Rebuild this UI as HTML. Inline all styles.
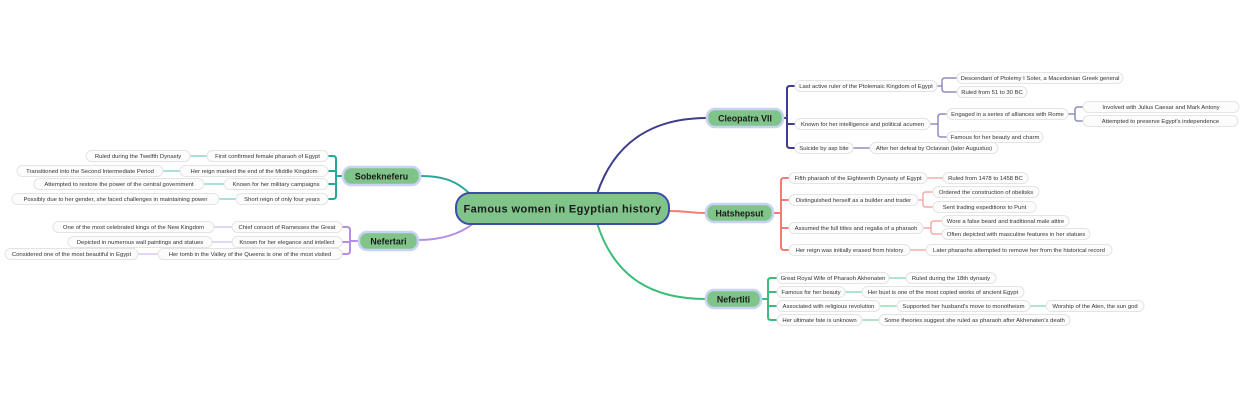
<!DOCTYPE html>
<html><head><meta charset="utf-8"><style>
html,body{margin:0;padding:0;background:#fff;width:1240px;height:400px;overflow:hidden}
svg{display:block}
.p{fill:#fcfcfc;stroke:#e4e4e4;stroke-width:1}
.t{font-family:"Liberation Sans",sans-serif;font-size:5.9px;fill:#333;text-anchor:middle}
.n{fill:#80c48a;stroke:#c8d2f2;stroke-width:2.5}
.nt{font-family:"Liberation Sans",sans-serif;font-size:8.8px;font-weight:bold;fill:#1a1a1a;text-anchor:middle}
path{fill:none;stroke-linecap:round;stroke-linejoin:round}
</style></head><body>
<svg width="1240" height="400" viewBox="0 0 1240 400" xmlns="http://www.w3.org/2000/svg">
<path d="M597 194 C615 140 655 118 707 118" stroke="#3d3d8c" stroke-width="2"/>
<path d="M669 211 C688 211 690 213 706 213" stroke="#f47a72" stroke-width="2"/>
<path d="M597 223 C615 280 655 299 706 299" stroke="#3dbb7a" stroke-width="2"/>
<path d="M420 176 C445 176 458 182 470 194" stroke="#27a89a" stroke-width="2"/>
<path d="M418 240 C442 240 460 234 474 223" stroke="#b68ee0" stroke-width="2"/>

<g stroke="#3d3d8c" stroke-width="2">
<path d="M783 118 H787"/>
<path d="M795 86 H790 Q787 86 787 89 V145 Q787 148 790 148 H795"/>
<path d="M787 124 H795"/>
</g>
<g stroke="#8d8dc0" stroke-width="1.5">
<path d="M937 86 H942"/>
<path d="M957 78 H945 Q942 78 942 81 V89 Q942 92 945 92 H957"/>
<path d="M930 124 H938"/>
<path d="M947 114 H941 Q938 114 938 117 V134 Q938 137 941 137 H947"/>
<path d="M1068 114 H1075"/>
<path d="M1083 107 H1078 Q1075 107 1075 110 V118 Q1075 121 1078 121 H1083"/>
<path d="M853 148 H870"/>
</g>
<g stroke="#f47a72" stroke-width="2">
<path d="M773 213 H781"/>
<path d="M789 178 H784 Q781 178 781 181 V247 Q781 250 784 250 H789"/>
<path d="M781 200 H789 M781 228 H789"/>
</g>
<g stroke="#f7aaa5" stroke-width="1.5">
<path d="M927 178 H943"/>
<path d="M918 200 H923"/>
<path d="M933 192 H926 Q923 192 923 195 V204 Q923 207 926 207 H933"/>
<path d="M923 228 H931"/>
<path d="M942 221 H934 Q931 221 931 224 V231 Q931 234 934 234 H942"/>
<path d="M910 250 H926"/>
</g>
<g stroke="#3dbb7a" stroke-width="2">
<path d="M761 299 H768"/>
<path d="M777 278 H771 Q768 278 768 281 V317 Q768 320 771 320 H777"/>
<path d="M768 292 H777 M768 306 H777"/>
</g>
<g stroke="#95dcb8" stroke-width="1.5">
<path d="M889 278 H906"/>
<path d="M845 292 H862"/>
<path d="M880 306 H897"/>
<path d="M1030 306 H1046"/>
<path d="M862 320 H879"/>
</g>
<g stroke="#27a89a" stroke-width="2">
<path d="M343 176 H336"/>
<path d="M328 156 H333 Q336 156 336 159 V196 Q336 199 333 199 H328"/>
<path d="M336 171 H328 M336 184 H328"/>
</g>
<g stroke="#8dd6d0" stroke-width="1.5">
<path d="M207 156 H190"/>
<path d="M180 171 H163"/>
<path d="M224 184 H204"/>
<path d="M236 199 H219"/>
</g>
<g stroke="#b68ee0" stroke-width="2">
<path d="M359 241 H350"/>
<path d="M342 227 H347 Q350 227 350 230 V251 Q350 254 347 254 H342"/>
<path d="M350 242 H342"/>
</g>
<g stroke="#dcc8f2" stroke-width="1.5">
<path d="M232 227 H214"/>
<path d="M232 242 H212"/>
<path d="M158 254 H138"/>
</g>

<rect x="456" y="193" width="213" height="31" rx="14" fill="#80c48a" stroke="#3b4fa8" stroke-width="2"/>
<text x="562.5" y="212.5" style="font-family:'Liberation Sans',sans-serif;font-size:11px;font-weight:bold;fill:#1a1a1a;text-anchor:middle;letter-spacing:0.4px">Famous women in Egyptian history</text>

<rect class="n" x="707" y="109" width="76" height="18" rx="8"/><text class="nt" x="745" y="121.5">Cleopatra VII</text>
<rect class="n" x="706" y="204" width="67" height="18" rx="8"/><text class="nt" x="739.5" y="216.5">Hatshepsut</text>
<rect class="n" x="706" y="290" width="55" height="18" rx="8"/><text class="nt" x="733.5" y="302.5">Nefertiti</text>
<rect class="n" x="343" y="167" width="77" height="18" rx="8"/><text class="nt" x="381.5" y="179.5">Sobekneferu</text>
<rect class="n" x="359" y="232" width="59" height="18" rx="8"/><text class="nt" x="388.5" y="244.5">Nefertari</text>

<rect class="p" x="795" y="80.5" width="142" height="11" rx="5.5"/><text class="t" x="866" y="88.2">Last active ruler of the Ptolemaic Kingdom of Egypt</text>
<rect class="p" x="957" y="72.5" width="166" height="11" rx="5.5"/><text class="t" x="1040" y="80.2">Descendant of Ptolemy I Soter, a Macedonian Greek general</text>
<rect class="p" x="957" y="86.5" width="70" height="11" rx="5.5"/><text class="t" x="992" y="94.2">Ruled from 51 to 30 BC</text>
<rect class="p" x="795" y="118.5" width="135" height="11" rx="5.5"/><text class="t" x="862.5" y="126.2">Known for her intelligence and political acumen</text>
<rect class="p" x="947" y="108.5" width="121" height="11" rx="5.5"/><text class="t" x="1007.5" y="116.2">Engaged in a series of alliances with Rome</text>
<rect class="p" x="1083" y="101.5" width="156" height="11" rx="5.5"/><text class="t" x="1161" y="109.2">Involved with Julius Caesar and Mark Antony</text>
<rect class="p" x="1083" y="115.5" width="155" height="11" rx="5.5"/><text class="t" x="1160.5" y="123.2">Attempted to preserve Egypt's independence</text>
<rect class="p" x="947" y="131.5" width="96" height="11" rx="5.5"/><text class="t" x="995" y="139.2">Famous for her beauty and charm</text>
<rect class="p" x="795" y="142.5" width="58" height="11" rx="5.5"/><text class="t" x="824" y="150.2">Suicide by asp bite</text>
<rect class="p" x="870" y="142.5" width="128" height="11" rx="5.5"/><text class="t" x="934" y="150.2">After her defeat by Octavian (later Augustus)</text>

<rect class="p" x="789" y="172.5" width="138" height="11" rx="5.5"/><text class="t" x="858" y="180.2">Fifth pharaoh of the Eighteenth Dynasty of Egypt</text>
<rect class="p" x="943" y="172.5" width="85" height="11" rx="5.5"/><text class="t" x="985.5" y="180.2">Ruled from 1478 to 1458 BC</text>
<rect class="p" x="789" y="194.5" width="129" height="11" rx="5.5"/><text class="t" x="853.5" y="202.2">Distinguished herself as a builder and trader</text>
<rect class="p" x="933" y="186.5" width="106" height="11" rx="5.5"/><text class="t" x="986" y="194.2">Ordered the construction of obelisks</text>
<rect class="p" x="933" y="201.5" width="103" height="11" rx="5.5"/><text class="t" x="984.5" y="209.2">Sent trading expeditions to Punt</text>
<rect class="p" x="789" y="222.5" width="134" height="11" rx="5.5"/><text class="t" x="856" y="230.2">Assumed the full titles and regalia of a pharaoh</text>
<rect class="p" x="942" y="215.5" width="127" height="11" rx="5.5"/><text class="t" x="1005.5" y="223.2">Wore a false beard and traditional male attire</text>
<rect class="p" x="942" y="228.5" width="148" height="11" rx="5.5"/><text class="t" x="1016" y="236.2">Often depicted with masculine features in her statues</text>
<rect class="p" x="789" y="244.5" width="121" height="11" rx="5.5"/><text class="t" x="849.5" y="252.2">Her reign was initially erased from history</text>
<rect class="p" x="926" y="244.5" width="186" height="11" rx="5.5"/><text class="t" x="1019" y="252.2">Later pharaohs attempted to remove her from the historical record</text>

<rect class="p" x="777" y="272.5" width="112" height="11" rx="5.5"/><text class="t" x="833" y="280.2">Great Royal Wife of Pharaoh Akhenaten</text>
<rect class="p" x="906" y="272.5" width="90" height="11" rx="5.5"/><text class="t" x="951" y="280.2">Ruled during the 18th dynasty</text>
<rect class="p" x="777" y="286.5" width="68" height="11" rx="5.5"/><text class="t" x="811" y="294.2">Famous for her beauty</text>
<rect class="p" x="862" y="286.5" width="162" height="11" rx="5.5"/><text class="t" x="943" y="294.2">Her bust is one of the most copied works of ancient Egypt</text>
<rect class="p" x="777" y="300.5" width="103" height="11" rx="5.5"/><text class="t" x="828.5" y="308.2">Associated with religious revolution</text>
<rect class="p" x="897" y="300.5" width="133" height="11" rx="5.5"/><text class="t" x="963.5" y="308.2">Supported her husband's move to monotheism</text>
<rect class="p" x="1046" y="300.5" width="98" height="11" rx="5.5"/><text class="t" x="1095" y="308.2">Worship of the Aten, the sun god</text>
<rect class="p" x="777" y="314.5" width="85" height="11" rx="5.5"/><text class="t" x="819.5" y="322.2">Her ultimate fate is unknown</text>
<rect class="p" x="879" y="314.5" width="191" height="11" rx="5.5"/><text class="t" x="974.5" y="322.2">Some theories suggest she ruled as pharaoh after Akhenaten's death</text>

<rect class="p" x="207" y="150.5" width="121" height="11" rx="5.5"/><text class="t" x="267.5" y="158.2">First confirmed female pharaoh of Egypt</text>
<rect class="p" x="86" y="150.5" width="104" height="11" rx="5.5"/><text class="t" x="138" y="158.2">Ruled during the Twelfth Dynasty</text>
<rect class="p" x="180" y="165.5" width="148" height="11" rx="5.5"/><text class="t" x="254" y="173.2">Her reign marked the end of the Middle Kingdom</text>
<rect class="p" x="17" y="165.5" width="146" height="11" rx="5.5"/><text class="t" x="90" y="173.2">Transitioned into the Second Intermediate Period</text>
<rect class="p" x="224" y="178.5" width="104" height="11" rx="5.5"/><text class="t" x="276" y="186.2">Known for her military campaigns</text>
<rect class="p" x="34" y="178.5" width="170" height="11" rx="5.5"/><text class="t" x="119" y="186.2">Attempted to restore the power of the central government</text>
<rect class="p" x="236" y="193.5" width="92" height="11" rx="5.5"/><text class="t" x="282" y="201.2">Short reign of only four years</text>
<rect class="p" x="12" y="193.5" width="207" height="11" rx="5.5"/><text class="t" x="115.5" y="201.2">Possibly due to her gender, she faced challenges in maintaining power</text>

<rect class="p" x="232" y="221.5" width="110" height="11" rx="5.5"/><text class="t" x="287" y="229.2">Chief consort of Ramesses the Great</text>
<rect class="p" x="53" y="221.5" width="161" height="11" rx="5.5"/><text class="t" x="133.5" y="229.2">One of the most celebrated kings of the New Kingdom</text>
<rect class="p" x="232" y="236.5" width="110" height="11" rx="5.5"/><text class="t" x="287" y="244.2">Known for her elegance and intellect</text>
<rect class="p" x="68" y="236.5" width="144" height="11" rx="5.5"/><text class="t" x="140" y="244.2">Depicted in numerous wall paintings and statues</text>
<rect class="p" x="158" y="248.5" width="184" height="11" rx="5.5"/><text class="t" x="250" y="256.2">Her tomb in the Valley of the Queens is one of the most visited</text>
<rect class="p" x="5" y="248.5" width="133" height="11" rx="5.5"/><text class="t" x="71.5" y="256.2">Considered one of the most beautiful in Egypt</text>
</svg>
</body></html>
